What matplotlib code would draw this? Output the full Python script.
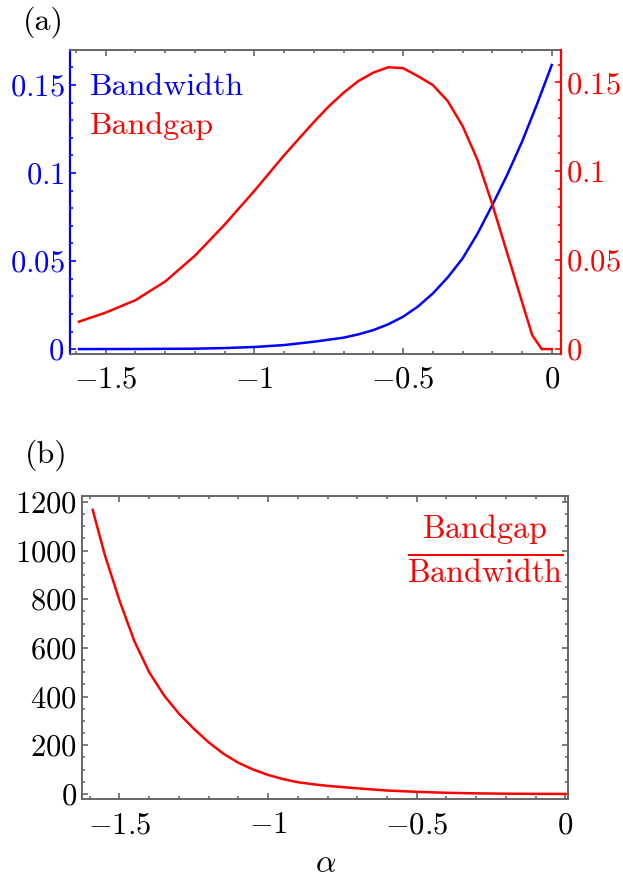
"""Bandwidth / bandgap versus alpha, two stacked panels."""

import matplotlib

matplotlib.use("Agg")
import matplotlib.pyplot as plt
from matplotlib.ticker import FuncFormatter, MultipleLocator

plt.rcParams["font.family"] = "serif"
plt.rcParams["font.serif"] = ["cmr10", "DejaVu Serif"]
plt.rcParams["mathtext.fontset"] = "cm"
plt.rcParams["axes.formatter.use_mathtext"] = True

BLUE = "#0000ff"
RED = "#ff0000"
FRAME = "#666666"
FS_TICK = 22
FS_TEXT = 23
LW = 1.8

# panel (a): bandwidth (left axis)
alpha_bw = [-1.59, -1.4, -1.2, -1.1, -1.0, -0.9, -0.8, -0.7, -0.65, -0.6,
            -0.55, -0.5, -0.45, -0.4, -0.35, -0.3, -0.25, -0.2, -0.15, -0.1,
            -0.05, 0.0]
bandwidth = [0.00002, 0.00006, 0.00025, 0.0006, 0.0012, 0.0023, 0.0042,
             0.0065, 0.0084, 0.0108, 0.0141, 0.0184, 0.0242, 0.0316, 0.0407,
             0.0515, 0.0655, 0.0818, 0.099, 0.1178, 0.139, 0.1614]

# panel (a): bandgap (right axis)
alpha_gap = [-1.59, -1.5, -1.4, -1.3, -1.2, -1.1, -1.0, -0.9, -0.8, -0.75,
             -0.7, -0.65, -0.6, -0.55, -0.5, -0.45, -0.4, -0.35, -0.3, -0.25,
             -0.2, -0.15, -0.1, -0.066, -0.034, 0.0]
bandgap = [0.0154, 0.0205, 0.0275, 0.038, 0.0525, 0.07, 0.089, 0.109,
           0.1277, 0.1365, 0.1442, 0.1508, 0.1555, 0.1585, 0.158, 0.1535,
           0.1485, 0.1395, 0.1255, 0.1065, 0.0814, 0.054, 0.0265, 0.0079,
           0.0, 0.0]

# panel (b): bandgap / bandwidth
alpha_ratio = [-1.59, -1.55, -1.5, -1.45, -1.4, -1.35, -1.3, -1.25, -1.2,
               -1.15, -1.1, -1.05, -1.0, -0.95, -0.9, -0.85, -0.8, -0.7,
               -0.6, -0.5, -0.4, -0.3, -0.2, -0.1, 0.0]
ratio = [1167, 985, 795, 628, 500, 405, 330, 268, 212, 165, 128, 100, 78,
         61, 48, 40, 33, 23, 14, 8.6, 4.6, 2.3, 1.0, 0.24, 0.0]

num_fmt = FuncFormatter(lambda v, _: f"${v:g}$")


def _style_ticks(axis_obj, major, minor):
    axis_obj.set_major_locator(MultipleLocator(major))
    axis_obj.set_minor_locator(MultipleLocator(minor))
    axis_obj.set_major_formatter(num_fmt)


fig = plt.figure(figsize=(6.23, 8.82), dpi=100)

# ---- panel (a) ----
ax = fig.add_axes([0.1124, 0.5986, 0.7876, 0.3447])
ax_r = ax.twinx()

ax.plot(alpha_bw, bandwidth, color=BLUE, lw=LW)
ax_r.plot(alpha_gap, bandgap, color=RED, lw=LW)

ax.set_xlim(-1.62, 0.03)
ax.set_ylim(-0.0028, 0.1699)
ax_r.set_ylim(-0.0028, 0.1682)

_style_ticks(ax.xaxis, 0.5, 0.1)
_style_ticks(ax.yaxis, 0.05, 0.01)
_style_ticks(ax_r.yaxis, 0.05, 0.01)

for name in ("top", "bottom"):
    ax.spines[name].set_color(FRAME)
    ax.spines[name].set_linewidth(1.4)
    ax_r.spines[name].set_visible(False)
ax.spines["right"].set_visible(False)
ax.spines["left"].set_color(BLUE)
ax.spines["left"].set_linewidth(1.6)
ax_r.spines["left"].set_visible(False)
ax_r.spines["right"].set_color(RED)
ax_r.spines["right"].set_linewidth(1.6)

ax.tick_params(axis="x", which="both", direction="in", top=True, bottom=True,
               color=FRAME, width=1.2, labelsize=FS_TICK, pad=9)
ax.tick_params(axis="x", which="major", length=4)
ax.tick_params(axis="x", which="minor", length=2.2)
ax.tick_params(axis="y", which="both", direction="in", left=True, right=False,
               color=BLUE, labelcolor=BLUE, width=1.2, labelsize=FS_TICK, pad=4)
ax.tick_params(axis="y", which="major", length=4)
ax.tick_params(axis="y", which="minor", length=2.2)
ax_r.tick_params(axis="y", which="both", direction="in", right=True, left=False,
                 color=RED, labelcolor=RED, width=1.2, labelsize=FS_TICK, pad=4)
ax_r.tick_params(axis="y", which="major", length=4)
ax_r.tick_params(axis="y", which="minor", length=2.2)

ax.text(0.041, 0.852, "Bandwidth", color=BLUE, fontsize=FS_TEXT,
        transform=ax.transAxes, va="baseline", ha="left")
ax.text(0.041, 0.724, "Bandgap", color=RED, fontsize=FS_TEXT,
        transform=ax.transAxes, va="baseline", ha="left")

fig.text(0.069, 0.975, "(a)", fontsize=FS_TEXT, ha="center", va="center")

# ---- panel (b) ----
bx = fig.add_axes([0.1321, 0.0938, 0.7796, 0.3444])
bx.plot(alpha_ratio, ratio, color=RED, lw=LW)
bx.set_xlim(-1.625, 0.009)
bx.set_ylim(-22, 1226)

_style_ticks(bx.xaxis, 0.5, 0.1)
_style_ticks(bx.yaxis, 200, 50)

for spine in bx.spines.values():
    spine.set_color(FRAME)
    spine.set_linewidth(1.4)

bx.tick_params(axis="both", which="both", direction="in", top=True, bottom=True,
               left=True, right=True, color=FRAME, width=1.2, labelsize=FS_TICK)
bx.tick_params(axis="x", pad=9)
bx.tick_params(axis="y", pad=4)
bx.tick_params(which="major", length=4)
bx.tick_params(which="minor", length=2.2)

bx.text(0.83, 0.822, r"$\frac{\mathrm{Bandgap}}{\mathrm{Bandwidth}}$",
        color=RED, fontsize=33, transform=bx.transAxes,
        ha="center", va="center")
bx.set_xlabel(r"$\alpha$", fontsize=FS_TEXT, labelpad=8)

fig.text(0.074, 0.484, "(b)", fontsize=FS_TEXT, ha="center", va="center")

fig.savefig("out.png", dpi=100)
